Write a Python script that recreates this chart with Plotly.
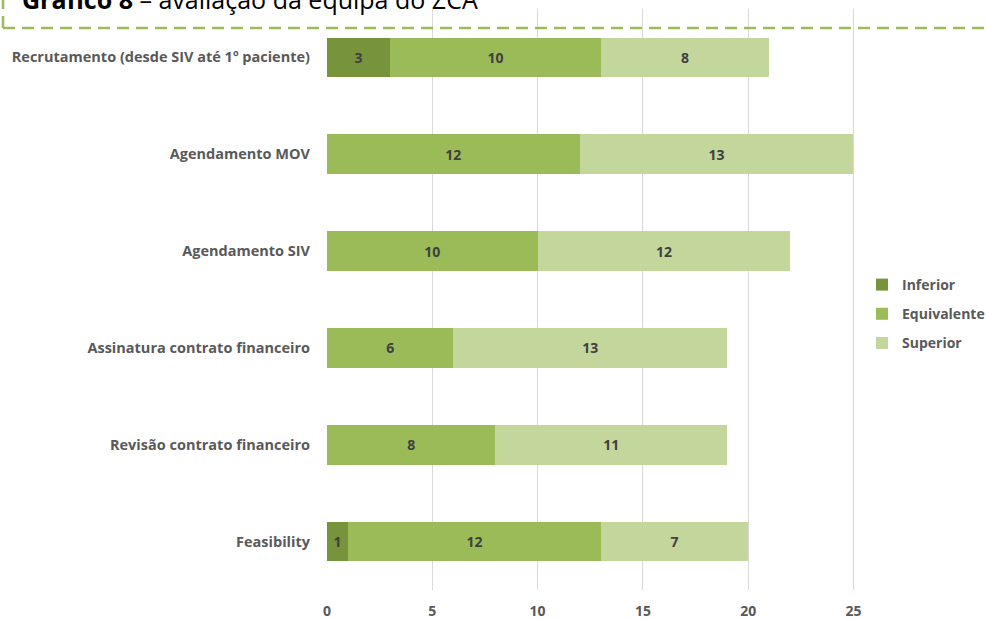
import plotly.graph_objects as go

categories = ["Recrutamento (desde SIV até 1º paciente)", "Agendamento MOV", "Agendamento SIV",
              "Assinatura contrato financeiro", "Revisão contrato financeiro", "Feasibility"]
inferior = [3, 0, 0, 0, 0, 1]
equivalente = [10, 12, 10, 6, 8, 12]
superior = [8, 13, 12, 13, 11, 7]
series_names = ["Inferior", "Equivalente", "Superior"]
colors = ["#77933C", "#9BBB59", "#C3D69B"]
x_ticks = [0, 5, 10, 15, 20, 25]

W, H = 987, 619
L, R, T, B = 327, 123, 9, 29
pw = W - L - R
ph = H - T - B

def px_x(p):
    return (p - L) / pw

def px_y(p):
    return (H - B - p) / ph

FONT = "Open Sans"
FS = 14
fig = go.Figure()
for i, (name, vals, col) in enumerate(zip(series_names, [inferior, equivalente, superior], colors)):
    fig.add_trace(go.Bar(
        y=categories, x=vals, name=name, orientation="h", legendgroup=f"g{i}",
        marker=dict(color=col, line=dict(width=0)),
        text=[str(v) if v else "" for v in vals],
        textposition="inside", insidetextanchor="middle",
        textfont=dict(family=FONT, size=FS, color="#404040", weight="bold"),
        hoverinfo="x+name",
    ))

fig.update_layout(
    width=W, height=H, barmode="stack", bargap=0.59,
    margin=dict(l=L, r=R, t=T, b=B, autoexpand=False),
    paper_bgcolor="white", plot_bgcolor="white",
    font=dict(family=FONT, size=FS, color="#595959"),
    uniformtext=dict(mode="show", minsize=FS),
    xaxis=dict(range=[0, 25.5], tickvals=x_ticks, showgrid=True, gridcolor="#D9D9D9", gridwidth=1,
               zeroline=False, showline=False, ticks="", ticklabelstandoff=11,
               tickfont=dict(family=FONT, size=FS, color="#595959", weight="bold")),
    yaxis=dict(autorange="reversed", showgrid=False, zeroline=False, showline=False, ticks="",
               ticklabelstandoff=16,
               tickfont=dict(family=FONT, size=14.5, color="#595959", weight="bold")),
    legend=dict(x=px_x(862), y=px_y(269), xanchor="left", yanchor="top",
                traceorder="grouped", font=dict(family=FONT, size=FS, color="#595959", weight="bold"),
                itemwidth=30, tracegroupgap=8, bgcolor="rgba(0,0,0,0)"),
    showlegend=True,
)

# title (partially cut at the top)
fig.add_annotation(text="<b>Gráfico 8</b> – avaliação da equipa do ZCA", xref="paper", yref="paper",
                   x=px_x(20), y=px_y(18), xanchor="left", yanchor="bottom", showarrow=False,
                   font=dict(family=FONT, size=25, color="#000000"))

dash_col = "#9BBB59"
fig.add_shape(type="line", xref="paper", yref="paper", x0=px_x(3), x1=px_x(990), y0=px_y(28), y1=px_y(28),
              line=dict(color=dash_col, width=2.5, dash="12px,7px"))
fig.add_shape(type="line", xref="paper", yref="paper", x0=px_x(3), x1=px_x(3), y0=px_y(28), y1=px_y(-5),
              line=dict(color=dash_col, width=2.5, dash="12px,7px"))

fig.write_html("out.html")
